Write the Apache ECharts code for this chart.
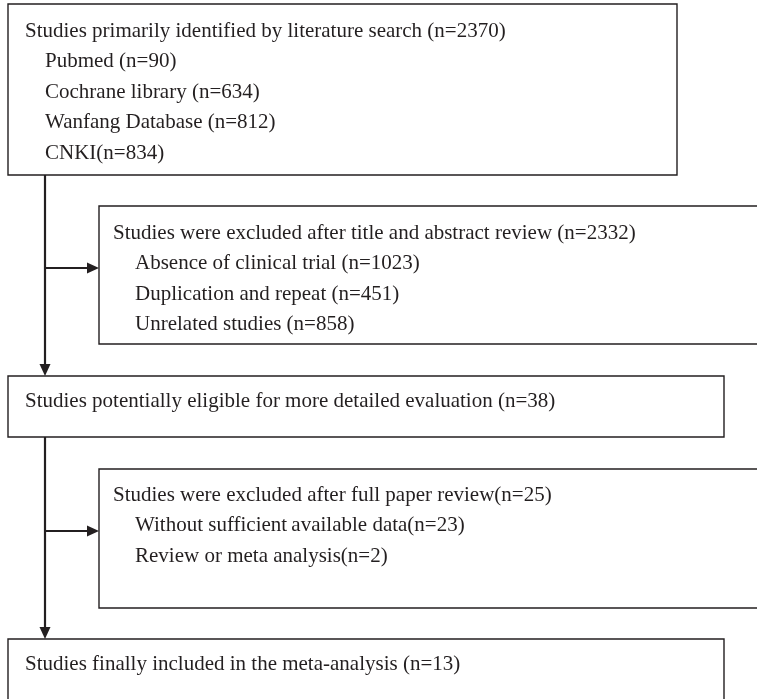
<!DOCTYPE html>
<html>
<head>
<meta charset="utf-8">
<script src="https://cdn.jsdelivr.net/npm/echarts@6/dist/echarts.min.js"></script>
<style>html,body{margin:0;padding:0;background:#fff;}#main{width:757px;height:699px;}</style>
</head>
<body>
<div id="main"></div>
<script>
// ---- Data: text of each flowchart box (first line = heading, rest = indented items) ----
const identifiedLines = ["Studies primarily identified by literature search (n=2370)", "Pubmed (n=90)", "Cochrane library (n=634)", "Wanfang Database (n=812)", "CNKI(n=834)"];
const excludedAbstractLines = ["Studies were excluded after title and abstract review (n=2332)", "Absence of clinical trial (n=1023)", "Duplication and repeat (n=451)", "Unrelated studies (n=858)"];
const eligibleLines = ["Studies potentially eligible for more detailed evaluation (n=38)"];
const excludedFullLines = ["Studies were excluded after full paper review(n=25)", "Without sufficient\u2009available data(n=23)", "Review or meta analysis(n=2)"];
const includedLines = ["Studies finally included in the meta-analysis (n=13)"];
const boxTexts = [identifiedLines, excludedAbstractLines, eligibleLines, excludedFullLines, includedLines];
// flow: [fromBox, toBox (next main step), sideBox (exclusion)]
const flowSteps = [[0, 2, 1], [2, 4, 3]];

// ---- Layout (positions / sizes, in page pixels mapped through hidden axes) ----
const layout = {
  boxes: [[8, 4, 677, 175], [99, 206, 800, 344], [8, 376, 724, 437], [99, 469, 800, 608], [8, 639, 724, 760]],
  textX: [25, 113, 25, 113, 25],
  indent: [20, 22, 20, 22, 20],
  firstY: [31, 233, 401, 495, 664],
  lineGap: 30.6,
  trunkX: 45,
  branchY: [268, 531],
  head: 12,
  headW: 11
};
const ink = '#231f20';
const font = '21px "Liberation Serif", "DejaVu Serif", serif';

const chart = echarts.init(document.getElementById('main'), null, {renderer: 'canvas'});

function boxItem(params, api) {
  const i = api.value(0);
  const b = layout.boxes[i];
  const p0 = api.coord([b[0], b[1]]);
  const p1 = api.coord([b[2], b[3]]);
  const children = [{
    type: 'rect',
    shape: {x: p0[0], y: p0[1], width: p1[0] - p0[0], height: p1[1] - p0[1]},
    style: {fill: '#fff', stroke: ink, lineWidth: 1.4}
  }];
  boxTexts[i].forEach(function (t, k) {
    const pt = api.coord([layout.textX[i] + (k > 0 ? layout.indent[i] : 0), layout.firstY[i] + k * layout.lineGap]);
    children.push({
      type: 'text',
      style: {text: t, x: pt[0], y: pt[1], font: font, fill: ink, textAlign: 'left', textVerticalAlign: 'middle'}
    });
  });
  return {type: 'group', children: children};
}

function arrowItem(params, api) {
  const s = params.dataIndex;
  const step = flowSteps[s];
  const from = layout.boxes[step[0]], to = layout.boxes[step[1]], side = layout.boxes[step[2]];
  const x = layout.trunkX, h = layout.head, w = layout.headW;
  const top = api.coord([x, from[3]]);
  const bot = api.coord([x, to[1]]);
  const bj = api.coord([x, layout.branchY[s]]);
  const bt = api.coord([side[0], layout.branchY[s]]);
  return {
    type: 'group',
    children: [
      {type: 'line', shape: {x1: top[0], y1: top[1], x2: bot[0], y2: bot[1] - h + 1}, style: {stroke: ink, lineWidth: 2.2}},
      {type: 'polygon', shape: {points: [[bot[0] - w / 2, bot[1] - h], [bot[0] + w / 2, bot[1] - h], [bot[0], bot[1]]]}, style: {fill: ink}},
      {type: 'line', shape: {x1: bj[0], y1: bj[1], x2: bt[0] - h + 1, y2: bt[1]}, style: {stroke: ink, lineWidth: 2.2}},
      {type: 'polygon', shape: {points: [[bt[0] - h, bt[1] - w / 2], [bt[0] - h, bt[1] + w / 2], [bt[0], bt[1]]]}, style: {fill: ink}}
    ]
  };
}

chart.setOption({
  animation: false,
  grid: {left: 0, right: 0, top: 0, bottom: 0},
  xAxis: {type: 'value', min: 0, max: 757, show: false},
  yAxis: {type: 'value', min: 0, max: 699, inverse: true, show: false},
  series: [
    {type: 'custom', clip: false, renderItem: boxItem, data: boxTexts.map(function (_, i) { return [i]; })},
    {type: 'custom', clip: false, renderItem: arrowItem, data: flowSteps.map(function (_, i) { return [i]; })}
  ]
});
</script>
</body>
</html>
